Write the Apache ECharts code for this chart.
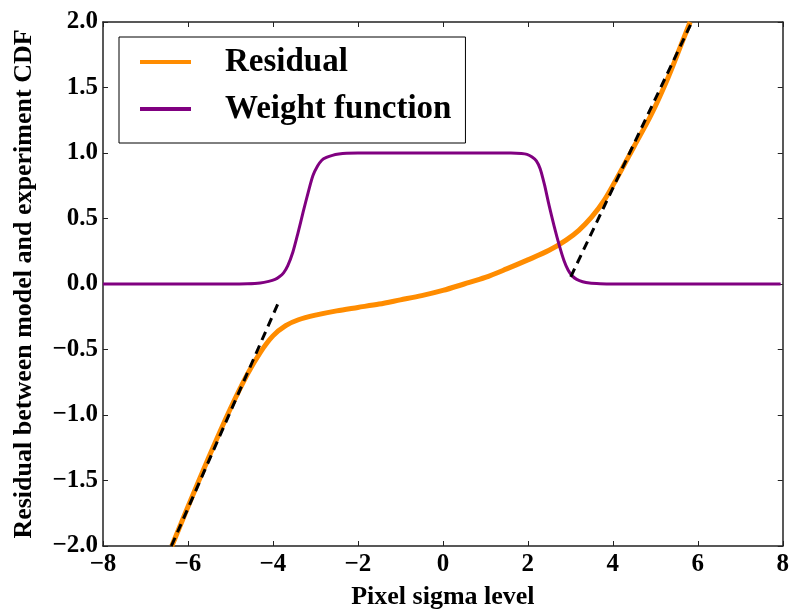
<!DOCTYPE html>
<html><head><meta charset="utf-8">
<script src="https://cdn.jsdelivr.net/npm/echarts@6/dist/echarts.min.js"></script>
<style>html,body{margin:0;padding:0;background:#fff}#c{width:792px;height:615px}</style>
</head><body><div id="c"></div>
<script>
const xTicks = [-8, -6, -4, -2, 0, 2, 4, 6, 8];
const yTicks = [-2.0, -1.5, -1.0, -0.5, 0.0, 0.5, 1.0, 1.5, 2.0];
const seriesNames = ['Residual', 'Weight function'];

const residualX = [-6.38, -6.0, -5.5, -5.0, -4.6, -4.3, -4.0, -3.7, -3.4, -3.0, -2.5, -2.0, -1.5, -1.0, -0.5, 0.0, 0.5, 1.0, 1.5, 2.0, 2.5, 2.9, 3.2, 3.5, 3.8, 4.1, 4.5, 4.9, 5.3, 5.6, 5.82];
const residualY = [-2.0, -1.70, -1.315, -0.95, -0.688, -0.523, -0.396, -0.318, -0.273, -0.238, -0.205, -0.179, -0.153, -0.121, -0.089, -0.049, 0.0, 0.050, 0.115, 0.184, 0.257, 0.335, 0.41, 0.51, 0.64, 0.81, 1.05, 1.29, 1.575, 1.82, 2.0];

const weightX = [-8.0, -5.0, -4.6, -4.3, -4.1, -3.95, -3.85, -3.75, -3.65, -3.53, -3.41, -3.29, -3.17, -3.06, -2.95, -2.85, -2.74, -2.6, -2.45, -2.27, -2.0, 1.6, 1.85, 1.98, 2.1, 2.2, 2.29, 2.39, 2.5, 2.62, 2.74, 2.85, 2.95, 3.05, 3.15, 3.29, 3.45, 3.7, 4.0, 7.95];
const weightY = [0, 0, 0.002, 0.008, 0.02, 0.035, 0.055, 0.085, 0.14, 0.244, 0.39, 0.548, 0.70, 0.826, 0.90, 0.945, 0.966, 0.982, 0.992, 0.998, 1, 1, 0.997, 0.99, 0.97, 0.94, 0.88, 0.76, 0.60, 0.44, 0.295, 0.18, 0.105, 0.06, 0.035, 0.017, 0.007, 0.002, 0, 0];

const asymLeftX = [-6.39, -3.88];
const asymLeftY = [-2.0, -0.148];
const asymRightX = [3.01, 5.86];
const asymRightY = [0.055, 2.0];

const zip = (a, b) => a.map((v, i) => [v, b[i]]);
const fmt1 = v => (v < 0 ? '\u2212' : '') + Math.abs(v).toFixed(1);
const fmt0 = v => (v < 0 ? '\u2212' : '') + Math.abs(v).toFixed(0);
const FONT = 'Liberation Serif';
const axisCol = '#222';

const chart = echarts.init(document.getElementById('c'));
const baseAxis = {
  type: 'value',
  splitLine: { show: false },
  axisLine: { show: true, onZero: false, lineStyle: { color: axisCol, width: 1.5 } },
  axisTick: { show: true, inside: true, length: 5, lineStyle: { color: axisCol, width: 1 } }
};
chart.setOption({
  animation: false,
  backgroundColor: '#fff',
  grid: { left: 103, right: 8, top: 22, bottom: 66, containLabel: false },
  xAxis: [
    Object.assign({}, baseAxis, {
      position: 'bottom', min: xTicks[0], max: xTicks[xTicks.length - 1], interval: 2,
      axisLabel: { formatter: fmt0, fontFamily: FONT, fontWeight: 'bold', fontSize: 25, color: '#000', margin: 6 },
      name: 'Pixel sigma level', nameLocation: 'middle', nameGap: 38,
      nameTextStyle: { fontFamily: FONT, fontWeight: 'bold', fontSize: 26, color: '#000' }
    }),
    Object.assign({}, baseAxis, {
      position: 'top', min: xTicks[0], max: xTicks[xTicks.length - 1], interval: 2,
      axisLabel: { show: false }
    })
  ],
  yAxis: [
    Object.assign({}, baseAxis, {
      position: 'left', min: yTicks[0], max: yTicks[yTicks.length - 1], interval: 0.5,
      axisLabel: { formatter: fmt1, fontFamily: FONT, fontWeight: 'bold', fontSize: 25, color: '#000', margin: 5 },
      name: 'Residual between model and experiment CDF', nameLocation: 'middle', nameGap: 66,
      nameTextStyle: { fontFamily: FONT, fontWeight: 'bold', fontSize: 26, color: '#000' }
    }),
    Object.assign({}, baseAxis, {
      position: 'right', min: yTicks[0], max: yTicks[yTicks.length - 1], interval: 0.5,
      axisLabel: { show: false }
    })
  ],
  legend: {
    orient: 'vertical', left: 119, top: 37,
    data: [
      { name: seriesNames[0], icon: 'rect', itemStyle: { color: '#FF8C00' } },
      { name: seriesNames[1], icon: 'rect', itemStyle: { color: '#800080' } }
    ],
    itemWidth: 51, itemHeight: 4, itemGap: 7,
    padding: [5, 14, 14, 21],
    borderColor: '#000', borderWidth: 1, borderRadius: 0, backgroundColor: '#fff',
    textStyle: { fontFamily: FONT, fontWeight: 'bold', fontSize: 33, color: '#000', lineHeight: 40, padding: [0, 0, 0, 29] }
  },
  series: [
    { name: seriesNames[0], type: 'line', data: zip(residualX, residualY), smooth: 0.3, showSymbol: false,
      lineStyle: { color: '#FF8C00', width: 5 }, itemStyle: { color: '#FF8C00' }, z: 2 },
    { name: seriesNames[1], type: 'line', data: zip(weightX, weightY), smooth: 0.25, showSymbol: false,
      lineStyle: { color: '#800080', width: 3 }, itemStyle: { color: '#800080' }, z: 3 },
    { name: 'asymL', type: 'line', data: zip(asymLeftX, asymLeftY), showSymbol: false,
      lineStyle: { color: '#000', width: 3, type: [9, 6] }, z: 4 },
    { name: 'asymR', type: 'line', data: zip(asymRightX, asymRightY), showSymbol: false,
      lineStyle: { color: '#000', width: 3, type: [9, 6] }, z: 4 }
  ]
});
</script>
</body></html>
